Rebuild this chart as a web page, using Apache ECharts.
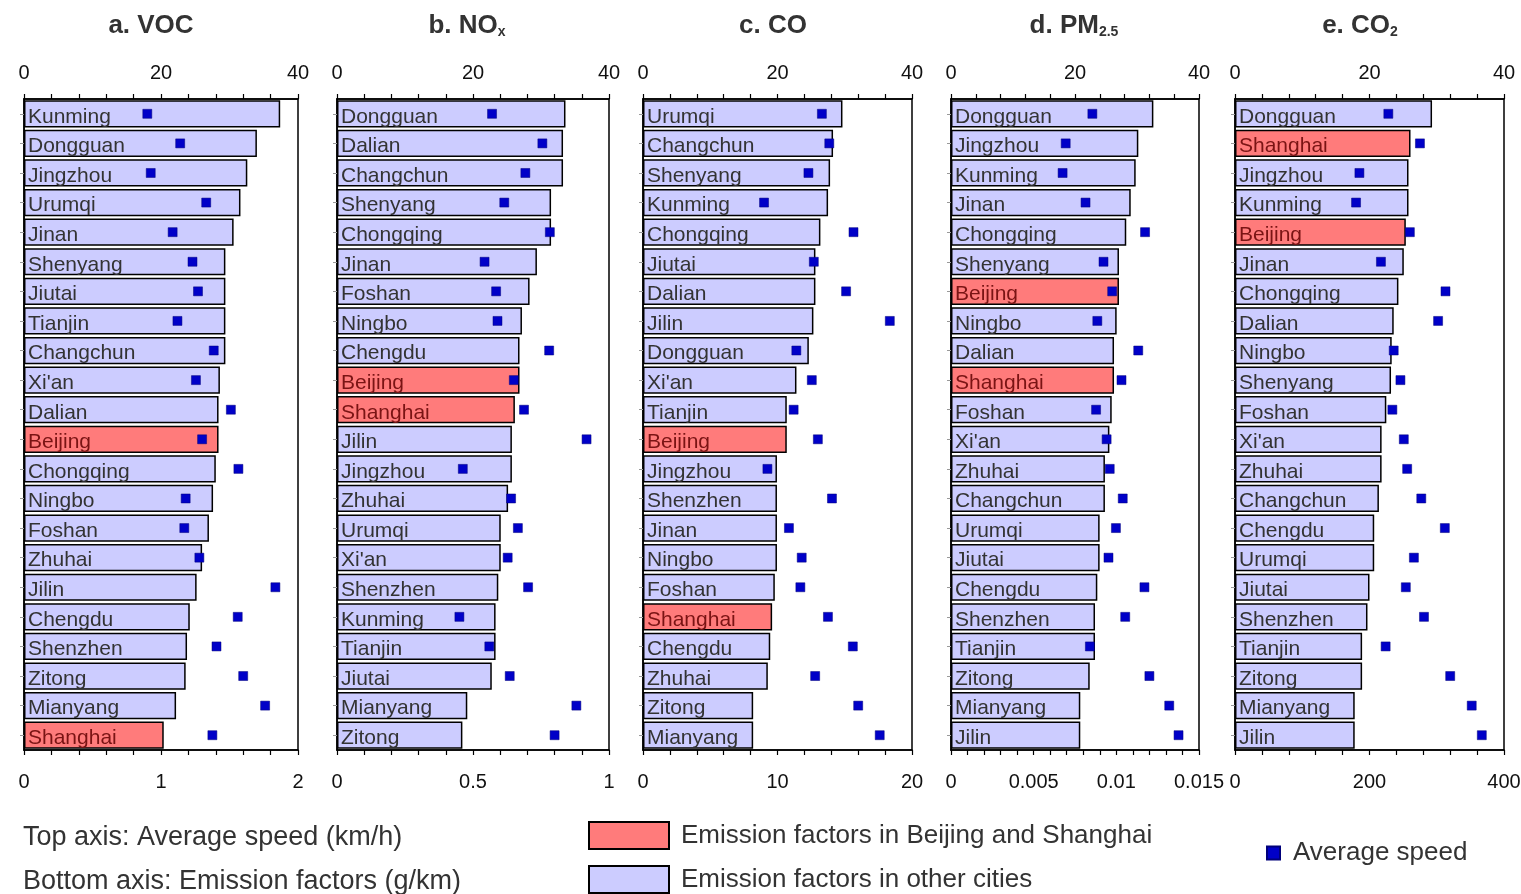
<!DOCTYPE html>
<html>
<head>
<meta charset="utf-8">
<script src="https://cdn.jsdelivr.net/npm/echarts@6.0.0/dist/echarts.min.js"></script>
<style>
  html, body { margin: 0; background: #fff; }
  #main { width: 1521px; height: 894px; }
</style>
</head>
<body>
<div id="main"></div>
<script>
// average speed (km/h), one value per city, same in every panel
const cities = ['Kunming', 'Dongguan', 'Jingzhou', 'Urumqi', 'Jinan', 'Shenyang', 'Jiutai', 'Tianjin', 'Changchun', "Xi'an", 'Dalian',
  'Beijing', 'Chongqing', 'Ningbo', 'Foshan', 'Zhuhai', 'Jilin', 'Chengdu', 'Shenzhen', 'Zitong', 'Mianyang', 'Shanghai']
const avgSpeed = [18.0, 22.8, 18.5, 26.6, 21.7, 24.6, 25.4, 22.4, 27.7, 25.1, 30.2,
  26.0, 31.3, 23.6, 23.4, 25.6, 36.7, 31.2, 28.1, 32.0, 35.2, 27.5]

const highlight = ['Beijing', 'Shanghai']

// emission factors (g/km), cities in drawing order per panel
const vocCities = ['Kunming', 'Dongguan', 'Jingzhou', 'Urumqi', 'Jinan', 'Shenyang', 'Jiutai', 'Tianjin', 'Changchun', "Xi'an", 'Dalian',
  'Beijing', 'Chongqing', 'Ningbo', 'Foshan', 'Zhuhai', 'Jilin', 'Chengdu', 'Shenzhen', 'Zitong', 'Mianyang', 'Shanghai']
const vocEF = [1.87, 1.70, 1.63, 1.58, 1.53, 1.47, 1.47, 1.47, 1.47, 1.43, 1.42,
  1.42, 1.40, 1.38, 1.35, 1.30, 1.26, 1.21, 1.19, 1.18, 1.11, 1.02]

const noxCities = ['Dongguan', 'Dalian', 'Changchun', 'Shenyang', 'Chongqing', 'Jinan', 'Foshan', 'Ningbo', 'Chengdu', 'Beijing', 'Shanghai',
  'Jilin', 'Jingzhou', 'Zhuhai', 'Urumqi', "Xi'an", 'Shenzhen', 'Kunming', 'Tianjin', 'Jiutai', 'Mianyang', 'Zitong']
const noxEF = [0.840, 0.831, 0.831, 0.787, 0.787, 0.735, 0.708, 0.680, 0.671, 0.671, 0.654,
  0.643, 0.643, 0.629, 0.602, 0.602, 0.593, 0.583, 0.583, 0.569, 0.479, 0.461]

const coCities = ['Urumqi', 'Changchun', 'Shenyang', 'Kunming', 'Chongqing', 'Jiutai', 'Dalian', 'Jilin', 'Dongguan', "Xi'an", 'Tianjin',
  'Beijing', 'Jingzhou', 'Shenzhen', 'Jinan', 'Ningbo', 'Foshan', 'Shanghai', 'Chengdu', 'Zhuhai', 'Zitong', 'Mianyang']
const coEF = [14.83, 14.13, 13.91, 13.76, 13.19, 12.82, 12.82, 12.67, 12.33, 11.41, 10.69,
  10.69, 9.96, 9.96, 9.96, 9.96, 9.80, 9.60, 9.46, 9.28, 8.19, 8.19]

const pmCities = ['Dongguan', 'Jingzhou', 'Kunming', 'Jinan', 'Chongqing', 'Shenyang', 'Beijing', 'Ningbo', 'Dalian', 'Shanghai', 'Foshan',
  "Xi'an", 'Zhuhai', 'Changchun', 'Urumqi', 'Jiutai', 'Chengdu', 'Shenzhen', 'Tianjin', 'Zitong', 'Mianyang', 'Jilin']
const pmEF = [0.01224, 0.01133, 0.01117, 0.01087, 0.01060, 0.01016, 0.01016, 0.01002, 0.00986, 0.00986, 0.00972,
  0.00958, 0.00931, 0.00931, 0.00899, 0.00899, 0.00885, 0.00871, 0.00871, 0.00839, 0.00782, 0.00782]

const co2Cities = ['Dongguan', 'Shanghai', 'Jingzhou', 'Kunming', 'Beijing', 'Jinan', 'Chongqing', 'Dalian', 'Ningbo', 'Shenyang', 'Foshan',
  "Xi'an", 'Zhuhai', 'Changchun', 'Chengdu', 'Urumqi', 'Jiutai', 'Shenzhen', 'Tianjin', 'Zitong', 'Mianyang', 'Jilin']
const co2EF = [293, 261, 258, 258, 254, 251, 243, 236, 233, 232, 225,
  218, 218, 214, 207, 207, 200, 197, 189, 189, 178, 178]

const FONT = "'Liberation Sans', Arial, sans-serif"
const NAME_HI = 'Emission factors in Beijing and Shanghai'
const NAME_OTHER = 'Emission factors in other cities'
const NAME_SPEED = 'Average speed'

const panels = [
  { title: '{t|a. VOC}', cx: 146, left: 24, width: 274, cities: vocCities, ef: vocEF, max: 2, step: 0.2, major: 1 },
  { title: '{t|b. NO}{s|x}', cx: 462, left: 337, width: 272, cities: noxCities, ef: noxEF, max: 1, step: 0.1, major: 0.5 },
  { title: '{t|c. CO}', cx: 768, left: 643, width: 269, cities: coCities, ef: coEF, max: 20, step: 2, major: 10 },
  { title: '{t|d. PM}{s|2.5}', cx: 1069, left: 951, width: 248, cities: pmCities, ef: pmEF, max: 0.015, step: 0.001, major: 0.005 },
  { title: '{t|e. CO}{s|2}', cx: 1355, left: 1235, width: 269, cities: co2Cities, ef: co2EF, max: 400, step: 40, major: 200 },
]

const onMajor = (v, major) => Math.abs(v / major - Math.round(v / major)) < 1e-6

const titleRich = {
  t: { fontSize: 26, fontWeight: 'bold', color: '#333', fontFamily: FONT },
  s: { fontSize: 14, fontWeight: 'bold', color: '#333', fontFamily: FONT, verticalAlign: 'bottom', padding: [12, 0, 0, 0] }
}

const axisBase = {
  type: 'value',
  min: 0,
  axisLine: { show: true, lineStyle: { color: '#000', width: 1.5 } },
  axisTick: { show: true, inside: false, length: 5, lineStyle: { color: '#000', width: 1.2 } },
  splitLine: { show: false },
}

let grid = [], xAxis = [], yAxis = [], series = [], title = []

panels.forEach((p, i) => {
  title.push({
    text: p.title, left: p.cx, top: 8, textAlign: 'center',
    textStyle: { rich: titleRich }
  })
  grid.push({
    left: p.left, width: p.width, top: 99, bottom: 144,
    show: true, borderColor: '#000', borderWidth: 1.5,
    outerBoundsMode: 'none'
  })
  // bottom: emission factor
  xAxis.push(Object.assign({}, axisBase, {
    gridIndex: i, position: 'bottom', max: p.max, interval: p.step,
    axisLabel: {
      margin: 22, fontSize: 20, color: '#111', fontFamily: FONT,
      formatter: v => onMajor(v, p.major) ? String(+v.toFixed(4)) : ''
    }
  }))
  // top: speed
  xAxis.push(Object.assign({}, axisBase, {
    gridIndex: i, position: 'top', max: 40, interval: 4,
    axisLabel: {
      margin: 16, fontSize: 20, color: '#111', fontFamily: FONT,
      formatter: v => v % 20 === 0 ? String(v) : ''
    }
  }))
  yAxis.push({
    type: 'category', gridIndex: i, inverse: true, data: p.cities,
    axisLine: { show: true, lineStyle: { color: '#000', width: 1.5 } },
    axisTick: { show: true, alignWithLabel: true, length: 4, lineStyle: { color: '#999' } },
    axisLabel: { show: false },
    splitLine: { show: false }
  })

  const barLabel = (color) => ({
    show: true, position: 'insideLeft', distance: 4, offset: [0, 3], formatter: '{b}',
    fontSize: 21, color: color, fontFamily: FONT
  })

  series.push({
    name: NAME_OTHER, type: 'bar', xAxisIndex: 2 * i, yAxisIndex: i,
    barCategoryGap: '8%', barGap: '-100%',
    itemStyle: { color: '#CCCCFF', borderColor: '#000', borderWidth: 1.5 },
    label: barLabel('#333'),
    data: p.ef.map((v, k) => highlight.includes(p.cities[k]) ? '-' : v)
  })
  series.push({
    name: NAME_HI, type: 'bar', xAxisIndex: 2 * i, yAxisIndex: i,
    barCategoryGap: '8%', barGap: '-100%',
    itemStyle: { color: '#FF7B7B', borderColor: '#000', borderWidth: 1.5 },
    label: barLabel('#7a1414'),
    data: p.ef.map((v, k) => highlight.includes(p.cities[k]) ? v : '-')
  })
  series.push({
    name: NAME_SPEED, type: 'scatter', xAxisIndex: 2 * i + 1, yAxisIndex: i,
    symbol: 'rect', symbolSize: 9, z: 5,
    itemStyle: { color: '#0000C8', borderColor: '#00007a', borderWidth: 0.5, opacity: 1 },
    data: p.cities.map(c => [avgSpeed[cities.indexOf(c)], c])
  })
})

const noteStyle = { fontSize: 27, fontWeight: 'normal', color: '#333', fontFamily: FONT }
title.push({ text: 'Top axis: Average speed (km/h)', left: 18, top: 819, textStyle: noteStyle })
title.push({ text: 'Bottom axis: Emission factors (g/km)', left: 18, top: 863, textStyle: noteStyle })

const legendText = { fontSize: 26, color: '#333', fontFamily: FONT, padding: [0, 0, 0, 7] }

let myChart = echarts.init(document.getElementById('main'))
myChart.setOption({
  animation: false,
  backgroundColor: '#fff',
  title: title,
  legend: [
    {
      left: 583, top: 816, icon: 'rect', itemWidth: 80, itemHeight: 27,
      selectedMode: false, data: [NAME_HI], textStyle: legendText
    },
    {
      left: 583, top: 860, icon: 'rect', itemWidth: 80, itemHeight: 27,
      selectedMode: false, data: [NAME_OTHER], textStyle: legendText
    },
    {
      left: 1261, top: 835, icon: 'rect', itemWidth: 13, itemHeight: 13,
      selectedMode: false, data: [NAME_SPEED],
      textStyle: Object.assign({}, legendText, { padding: [0, 0, 0, 8] })
    }
  ],
  grid: grid,
  xAxis: xAxis,
  yAxis: yAxis,
  series: series
})
</script>
</body>
</html>
